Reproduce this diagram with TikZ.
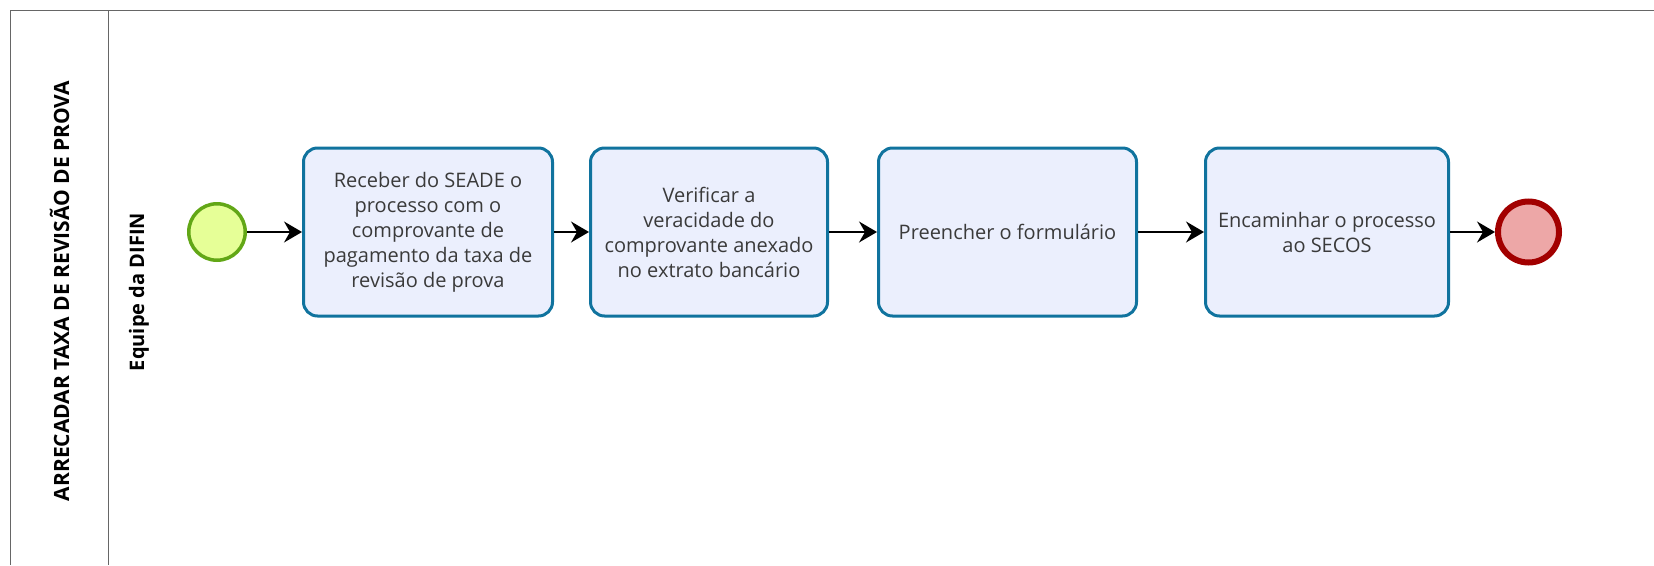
\documentclass[tikz,border=0pt]{standalone}
\usepackage{fontspec}
\setmainfont{Open Sans}
\usepackage{xcolor}
\usepackage{tikz}
\usetikzlibrary{arrows.meta}
\usetikzlibrary{shapes,arrows,positioning}
\definecolor{taskfill}{HTML}{EBEFFD}
\definecolor{taskdraw}{HTML}{10739E}
\definecolor{tasktext}{HTML}{3A3A3A}
\definecolor{startfill}{HTML}{E6FF97}
\definecolor{startdraw}{HTML}{62A716}
\definecolor{endfill}{HTML}{EDA7A7}
\definecolor{enddraw}{HTML}{A20000}
\definecolor{poolline}{HTML}{666666}
\tikzset{bpmn-line/.style={line width=1.5pt}}
\tikzset{>={Stealth[length=18pt,width=21pt,inset=6pt]}}
\tikzset{bpmn-task/.style={draw=taskdraw, fill=taskfill, line width=3pt, rounded corners=14pt, minimum height=168pt, inner sep=0, align=center, text=tasktext, font=\fontsize{20}{25}\selectfont}}
\tikzset{bpmn-start/.style={circle, draw=startdraw, fill=startfill, line width=3.5pt, minimum size=56.5pt, inner sep=0}}
\tikzset{bpmn-end/.style={circle, draw=enddraw, fill=endfill, line width=6pt, minimum size=61pt, inner sep=0}}
\tikzset{pool-text/.style={rotate=90, font=\bfseries\fontsize{21}{24}\selectfont, text=black}}

\begin{document}
\begin{tikzpicture}[x=1pt, y=1pt]
            \useasboundingbox (0,0) rectangle (1654,-565);

            % pool and lane
            \draw[poolline, line width=1.5pt] (1654,-10.5) -- (10.5,-10.5) -- (10.5,-565);
            \draw[poolline, line width=1.5pt] (108.6,-10.5) -- (108.6,-565);
            \node[pool-text] (pool) at (59.5,-291) {ARRECADAR TAXA DE REVISÃO DE PROVA};
            \node[pool-text, font=\bfseries\fontsize{20}{24}\selectfont] (lane) at (139,-292) {Equipe da DIFIN};

            \node[bpmn-start] (start) at (217,-232) {};

            \node[bpmn-task, minimum width=249pt, right=55pt of start] (node1) {Receber do SEADE o\\processo com o\\comprovante de\\pagamento da taxa de\\revisão de prova};
            \node[bpmn-task, minimum width=237pt, right=35pt of node1] (node2) {Verificar a\\veracidade do\\comprovante anexado\\no extrato bancário};
            \node[bpmn-task, minimum width=258pt, right=48pt of node2] (node3) {Preencher o formulário};
            \node[bpmn-task, minimum width=243pt, right=66pt of node3] (node4) {Encaminhar o processo\\ao SECOS};

            \node[bpmn-end, right=45pt of node4] (end) {};

            \draw[->, bpmn-line] (start) -- (node1);
            \draw[->, bpmn-line] (node1) -- (node2);
            \draw[->, bpmn-line] (node2) -- (node3);
            \draw[->, bpmn-line] (node3) -- (node4);
            \draw[->, bpmn-line] (node4) -- (end);

        \end{tikzpicture}
\end{document}
